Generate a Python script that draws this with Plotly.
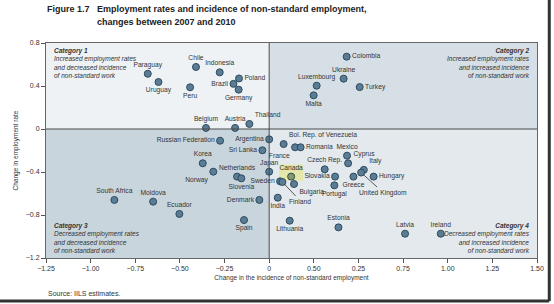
import plotly.graph_objects as go

# ---------------- data ----------------
countries = ["Paraguay", "Uruguay", "Chile", "Peru", "Indonesia", "Brazil", "Poland", "Germany",
             "Belgium", "Austria", "Thailand", "Colombia", "Ukraine", "Luxembourg", "Malta", "Turkey",
             "Russian Federation", "Argentina", "Sri Lanka", "Korea", "Norway", "Netherlands",
             "Slovenia", "Japan", "South Africa", "Moldova", "Ecuador", "Denmark", "Spain",
             "Bol. Rep. of Venezuela", "France", "Romania", "Mexico", "Cyprus", "Czech Rep.",
             "Italy", "United Kingdom", "Hungary", "Greece", "Slovakia", "Portugal", "Canada",
             "Sweden", "Finland", "Bulgaria", "India", "Lithuania", "Estonia", "Latvia", "Ireland"]
nonstd_change = [-0.68, -0.62, -0.41, -0.443, -0.277, -0.20, -0.169, -0.171,
                 -0.354, -0.191, -0.111, 0.434, 0.417, 0.266, 0.249, 0.507,
                 -0.275, 0.0, -0.038, -0.372, -0.313, -0.18,
                 -0.156, 0.0, -0.867, -0.65, -0.503, -0.055, -0.141,
                 0.081, 0.145, 0.176, 0.436, 0.442, 0.311,
                 0.53, 0.515, 0.585, 0.472, 0.369, 0.365, 0.123,
                 0.061, 0.074, 0.139, 0.048, 0.115, 0.388, 0.761, 0.961]
emp_change = [0.514, 0.437, 0.577, 0.388, 0.527, 0.42, 0.47, 0.366,
              0.01, 0.01, 0.047, 0.673, 0.468, 0.403, 0.313, 0.39,
              -0.109, -0.096, -0.198, -0.319, -0.397, -0.443,
              -0.459, -0.397, -0.66, -0.676, -0.79, -0.66, -0.847,
              -0.14, -0.17, -0.17, -0.248, -0.319, -0.375,
              -0.38, -0.405, -0.443, -0.443, -0.443, -0.524, -0.443,
              -0.487, -0.493, -0.512, -0.639, -0.853, -0.915, -0.974, -0.974]

x_tickvals = [-1.25, -1.0, -0.75, -0.5, -0.25, 0, 0.25, 0.5, 0.75, 1.0, 1.25, 1.5]
x_ticktext = ["\u22121.25", "\u22121.00", "\u22120.75", "\u22120.50", "\u22120.25", "0",
              "0.50", "0.25", "0.75", "1.00", "1.25", "1.50"]
y_tickvals = [0.8, 0.4, 0, -0.4, -0.8, -1.2]
y_ticktext = ["0.8", "0.4", "0", "\u22120.4", "\u22120.8", "\u22121.2"]

highlight = "Canada"
leader_labels = {"United Kingdom": (22, 20), "Finland": (18, 19)}

label_pos = {
    "Paraguay": "top center", "Uruguay": "bottom center", "Chile": "top center",
    "Peru": "bottom center", "Indonesia": "top center", "Brazil": "middle left",
    "Poland": "middle right", "Germany": "bottom center", "Belgium": "top center",
    "Austria": "top center", "Thailand": "top right", "Colombia": "middle right",
    "Ukraine": "top center", "Luxembourg": "top center", "Malta": "bottom center",
    "Turkey": "middle right", "Russian Federation": "middle left", "Argentina": "middle left",
    "Sri Lanka": "middle left", "Korea": "top center", "Norway": "bottom left",
    "Netherlands": "top center", "Slovenia": "bottom center", "Japan": "top center",
    "South Africa": "top center", "Moldova": "top center", "Ecuador": "top center",
    "Denmark": "middle left", "Spain": "bottom center", "Bol. Rep. of Venezuela": "top right",
    "France": "bottom left", "Romania": "middle right", "Mexico": "top center",
    "Cyprus": "top right", "Czech Rep.": "top center", "Italy": "top right",
    "United Kingdom": "middle center", "Hungary": "middle right", "Greece": "bottom center",
    "Slovakia": "middle left", "Portugal": "bottom center", "Canada": "top center",
    "Sweden": "middle left", "Finland": "middle center", "Bulgaria": "bottom right",
    "India": "bottom center", "Lithuania": "bottom center", "Estonia": "top center",
    "Latvia": "top center", "Ireland": "top center",
}

FONT = "Liberation Sans"
TXT = "#333333"
LBL = 6.7

fig = go.Figure()

x0r, x1r = x_tickvals[0], x_tickvals[-1]
y0r, y1r = min(y_tickvals), max(y_tickvals)

# quadrant backgrounds
quads = [(x0r, 0, 0, y1r, "#eef2f5"), (0, x1r, 0, y1r, "#d6dfe5"),
         (x0r, 0, y0r, 0, "#c8d5dd"), (0, x1r, y0r, 0, "#e3e9ed")]
for a, b, c, d, col in quads:
    fig.add_shape(type="rect", xref="x", yref="y", x0=a, x1=b, y0=c, y1=d,
                  fillcolor=col, line_width=0, layer="below")

# Canada highlight box
hi = countries.index(highlight)
fig.add_shape(type="rect", xref="x", yref="y", xsizemode="pixel", ysizemode="pixel",
              xanchor=nonstd_change[hi], yanchor=emp_change[hi],
              x0=-12, x1=12, y0=-4, y1=12, fillcolor="#e4e7a8", line_width=0, layer="below")

# zero lines
fig.add_shape(type="line", xref="x", yref="y", x0=0, x1=0, y0=y0r, y1=y1r,
              line=dict(color="#4a4a4a", width=1))
fig.add_shape(type="line", xref="x", yref="y", x0=x0r, x1=x1r, y0=0, y1=0,
              line=dict(color="#4a4a4a", width=1))

texts = ["" if c in leader_labels else c for c in countries]
positions = [label_pos[c] for c in countries]
fills = ["#8a9a62" if c == highlight else "#5a7d95" for c in countries]

fig.add_trace(go.Scatter(
    x=nonstd_change, y=emp_change, mode="markers+text", text=texts,
    textposition=positions, cliponaxis=False,
    textfont=dict(family=FONT, size=LBL, color=TXT),
    marker=dict(size=7, color=fills, line=dict(color="#2e4a5e", width=1)),
    showlegend=False, hoverinfo="skip"))

for c, (ax, ay) in leader_labels.items():
    i = countries.index(c)
    fig.add_annotation(x=nonstd_change[i], y=emp_change[i], text=c, showarrow=True,
                       arrowhead=0, arrowwidth=0.8, arrowcolor="#333", ax=ax, ay=ay,
                       standoff=3, font=dict(family=FONT, size=LBL, color=TXT))

# category notes
cat_font = dict(family=FONT, size=6.5, color=TXT)
fig.add_annotation(xref="paper", yref="paper", x=0.012, y=0.99, xanchor="left", yanchor="top",
                   align="left", showarrow=False, font=cat_font,
                   text="<b><i>Category 1</i></b><br><i>Increased employment rates<br>and decreased incidence<br>of non-standard work</i>")
fig.add_annotation(xref="paper", yref="paper", x=0.99, y=0.99, xanchor="right", yanchor="top",
                   align="right", showarrow=False, font=cat_font,
                   text="<b><i>Category 2</i></b><br><i>Increased employment rates<br>and increased incidence<br>of non-standard work</i>")
fig.add_annotation(xref="paper", yref="paper", x=0.012, y=0.01, xanchor="left", yanchor="bottom",
                   align="left", showarrow=False, font=cat_font,
                   text="<b><i>Category 3</i></b><br><i>Decreased employment rates<br>and decreased incidence<br>of non-standard work</i>")
fig.add_annotation(xref="paper", yref="paper", x=0.99, y=0.01, xanchor="right", yanchor="bottom",
                   align="right", showarrow=False, font=cat_font,
                   text="<b><i>Category 4</i></b><br><i>Decreased employment rates<br>and increased incidence<br>of non-standard work</i>")

# title
TFONT = dict(family=FONT, size=9, color="#222")
fig.add_annotation(xref="paper", yref="paper", x=-0.002, y=1.158, xanchor="left", yanchor="middle",
                   showarrow=False, text="<b>Figure 1.7</b>", font=TFONT)
fig.add_annotation(xref="paper", yref="paper", x=0.1, y=1.158, xanchor="left", yanchor="middle",
                   showarrow=False, text="<b>Employment rates and incidence of non-standard employment,</b>",
                   font=TFONT)
fig.add_annotation(xref="paper", yref="paper", x=0.1, y=1.097, xanchor="left", yanchor="middle",
                   showarrow=False, text="<b>changes between 2007 and 2010</b>", font=TFONT)

# source
fig.add_annotation(xref="paper", yref="paper", x=0.0, y=-0.163, xanchor="left", yanchor="middle",
                   showarrow=False, text="Source: IILS estimates.",
                   font=dict(family=FONT, size=7, color="#333333"))

# outer frame shadow
fig.add_shape(type="line", xref="paper", yref="paper", x0=1.025, x1=1.025, y0=-0.2, y1=1.2,
              line=dict(color="#333", width=3))
fig.add_shape(type="line", xref="paper", yref="paper", x0=-0.1, x1=1.025, y0=-0.2, y1=-0.2,
              line=dict(color="#333", width=3))

fig.update_xaxes(range=[x0r, x1r], tickvals=x_tickvals, ticktext=x_ticktext, automargin=False,
                 ticks="outside", ticklen=4, tickcolor="#555", showgrid=False, zeroline=False,
                 showline=True, linecolor="#666", linewidth=1, mirror=True,
                 tickfont=dict(family=FONT, size=7, color=TXT),
                 title=dict(text="Change in the incidence of non-standard employment",
                            font=dict(family=FONT, size=6.5, color=TXT), standoff=4))
fig.update_yaxes(range=[y0r, y1r], tickvals=y_tickvals, ticktext=y_ticktext, automargin=False,
                 ticks="outside", ticklen=4, tickcolor="#555", showgrid=False, zeroline=False,
                 showline=True, linecolor="#666", linewidth=1, mirror=True,
                 tickfont=dict(family=FONT, size=7, color=TXT),
                 title=dict(text="Change in employment rate",
                            font=dict(family=FONT, size=6.5, color=TXT), standoff=6))

fig.update_layout(width=554, height=304, margin=dict(l=46, r=17, t=43, b=46),
                  paper_bgcolor="white", plot_bgcolor="white")

fig.write_html("out.html")
